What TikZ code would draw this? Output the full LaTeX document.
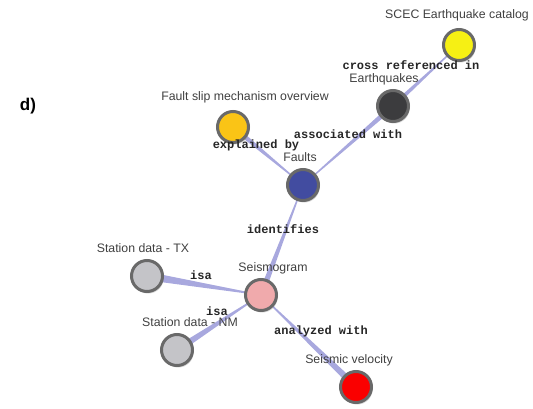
\documentclass[tikz,border=0pt]{standalone}
\usepackage{fontspec}
\setmainfont{Liberation Sans}
\newfontfamily\monof{Liberation Mono}
\usetikzlibrary{calc,backgrounds,shadows}
\definecolor{edgecol}{RGB}{168,168,222}
\definecolor{cyellow}{RGB}{246,240,20}
\definecolor{cdark}{RGB}{60,60,62}
\definecolor{corange}{RGB}{250,196,22}
\definecolor{cblue}{RGB}{66,76,160}
\definecolor{cpink}{RGB}{240,170,172}
\definecolor{cgrey}{RGB}{196,196,200}
\definecolor{cred}{RGB}{250,0,0}
\definecolor{ringcol}{RGB}{105,105,105}
\tikzset{
  ball/.style={circle,draw=ringcol,line width=3pt,minimum size=31pt,inner sep=0pt,
    drop shadow={shadow xshift=1.2pt,shadow yshift=-2pt,opacity=0.35}},
  lbl/.style={font=\fontsize{12.3}{14}\selectfont,text=black!75,inner sep=0pt},
  elbl/.style={font=\monof\bfseries\fontsize{12}{13}\selectfont,text=black!85,inner sep=0pt},
}
\newcommand{\mywedge}[3]{%
  \fill[edgecol] let \p1=($(#2.center)-(#1.center)$), \n1={atan2(\y1,\x1)} in
    ($(#1.center)+(\n1+90:0.4pt)$) -- ($(#2.center)+(\n1+90:#3)$) --
    ($(#2.center)+(\n1-90:#3)$) -- ($(#1.center)+(\n1-90:0.4pt)$) -- cycle;}
\begin{document}
\begin{tikzpicture}[x=1pt,y=-1pt]
\useasboundingbox (0,0) rectangle (533,409);
\node[font=\bfseries\fontsize{17}{19}\selectfont,inner sep=0pt] (d) at (28,106) {d)};
% balls
\node[ball,fill=cyellow] (scec) at (459,45) {};
\node[ball,fill=cdark] (eq) at (393,106) {};
\node[ball,fill=corange] (fs) at (233,127) {};
\node[ball,fill=cblue] (fa) at (303,185) {};
\node[ball,fill=cpink] (se) at (261,295) {};
\node[ball,fill=cgrey] (tx) at (147,276) {};
\node[ball,fill=cgrey] (nm) at (177,350) {};
\node[ball,fill=cred] (sv) at (356,387) {};
% edges
\begin{scope}[on background layer]
\mywedge{scec}{eq}{2.2pt}
\mywedge{fa}{eq}{2.6pt}
\mywedge{fa}{fs}{2.6pt}
\mywedge{fa}{se}{3pt}
\mywedge{se}{tx}{4.2pt}
\mywedge{se}{nm}{3.5pt}
\mywedge{se}{sv}{3.5pt}
\end{scope}
% node labels
\node[lbl] (lscec) at (457,15) {SCEC Earthquake catalog};
\node[lbl] (leq) at (384,79) {Earthquakes};
\node[lbl] (lfs) at (245,97) {Fault slip mechanism overview};
\node[lbl] (lfa) at (300,157) {Faults};
\node[lbl] (lse) at (273,268) {Seismogram};
\node[lbl] (ltx) at (143,248) {Station data - TX};
\node[lbl] (lnm) at (190,322) {Station data - NM};
\node[lbl] (lsv) at (349,360) {Seismic velocity};
% edge labels
\node[elbl] (ecr) at (411,65) {cross referenced in};
\node[elbl] (eaw) at (348,134) {associated with};
\node[elbl] (eeb) at (256,145) {explained by};
\node[elbl] (eid) at (283,229) {identifies};
\node[elbl] (eisa1) at (201,275) {isa};
\node[elbl] (eisa2) at (217,311) {isa};
\node[elbl] (eaw2) at (321,331) {analyzed with};
\end{tikzpicture}
\end{document}
